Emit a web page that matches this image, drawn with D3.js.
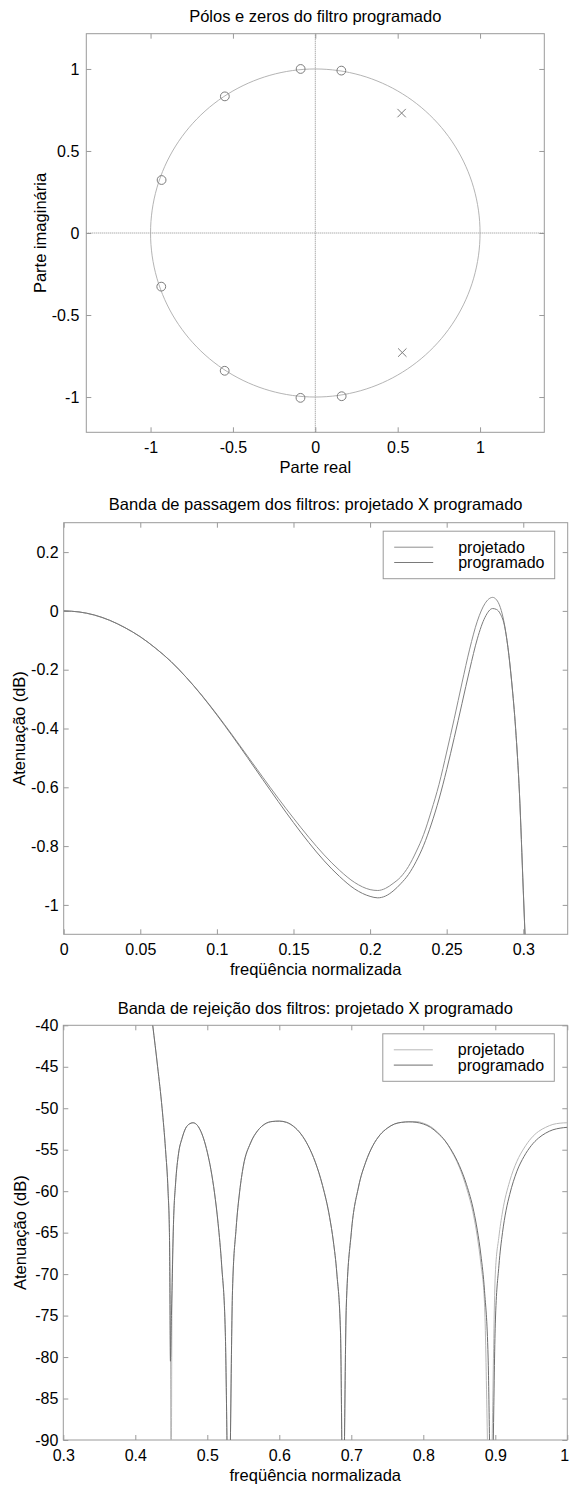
<!DOCTYPE html>
<html>
<head>
<meta charset="utf-8">
<script src="https://cdn.jsdelivr.net/npm/d3@7"></script>
<style>
  html, body { margin: 0; padding: 0; background: #fff; }
  svg { display: block; }
  text { font-family: "Liberation Sans", Arial, Helvetica, sans-serif; fill: #000; }
</style>
</head>
<body>
<svg id="fig" width="570" height="1486"></svg>
<script>
// ---------- DATA ----------
// Plot 1: poles and zeros
const zerosRe = [-0.089, 0.158, -0.549, -0.933, -0.935, -0.55, -0.09, 0.16];
const zerosIm = [1.0, 0.99, 0.833, 0.323, -0.327, -0.84, -1.005, -0.995];
const polesRe = [0.524, 0.528];
const polesIm = [0.731, -0.729];
const p1Ticks = [-1, -0.5, 0, 0.5, 1];

// Plot 2: passband
const passFreq = [0, 0.01, 0.02, 0.03, 0.04, 0.05, 0.06, 0.07, 0.08, 0.09, 0.10, 0.11, 0.12, 0.13, 0.14, 0.15, 0.16, 0.17, 0.18, 0.19, 0.20, 0.205, 0.21, 0.215, 0.22, 0.225, 0.23, 0.235, 0.24, 0.245, 0.25, 0.255, 0.26, 0.265, 0.27, 0.275, 0.28, 0.2825, 0.285, 0.2875, 0.29, 0.2925, 0.295, 0.2975, 0.3, 0.3015];
const passProjetado = [0, -0.0035, -0.014, -0.032, -0.057, -0.088, -0.127, -0.172, -0.226, -0.286, -0.352, -0.422, -0.494, -0.566, -0.637, -0.705, -0.77, -0.83, -0.882, -0.924, -0.948, -0.951, -0.944, -0.927, -0.905, -0.87, -0.82, -0.76, -0.68, -0.59, -0.48, -0.365, -0.245, -0.13, -0.035, 0.025, 0.046, 0.038, 0.012, -0.04, -0.125, -0.245, -0.4, -0.62, -0.95, -1.15];
const passProgramado = [0, -0.0035, -0.014, -0.032, -0.057, -0.088, -0.127, -0.172, -0.226, -0.287, -0.354, -0.425, -0.499, -0.574, -0.648, -0.72, -0.788, -0.85, -0.903, -0.946, -0.971, -0.976, -0.97, -0.953, -0.928, -0.897, -0.853, -0.797, -0.725, -0.64, -0.54, -0.43, -0.315, -0.2, -0.095, -0.022, 0.008, 0.005, -0.01, -0.045, -0.125, -0.245, -0.4, -0.62, -0.95, -1.15];
const p2XTicks = [0, 0.05, 0.1, 0.15, 0.2, 0.25, 0.3];
const p2YTicks = [-1, -0.8, -0.6, -0.4, -0.2, 0, 0.2];

// Plot 3: stopband
const stopFreqProj = [0.412, 0.418, 0.4242, 0.431, 0.4372, 0.442, 0.4455, 0.4474, 0.4486, 0.4497, 0.451, 0.453, 0.456, 0.46, 0.465, 0.47, 0.475, 0.48, 0.485, 0.49, 0.495, 0.50, 0.505, 0.51, 0.515, 0.52, 0.525, 0.5298, 0.535, 0.54, 0.545, 0.55, 0.56, 0.57, 0.58, 0.59, 0.60, 0.61, 0.62, 0.63, 0.64, 0.65, 0.66, 0.67, 0.675, 0.68, 0.685, 0.6885, 0.693, 0.70, 0.71, 0.72, 0.73, 0.74, 0.75, 0.76, 0.77, 0.78, 0.79, 0.80, 0.81, 0.82, 0.83, 0.84, 0.85, 0.86, 0.87, 0.875, 0.88, 0.885, 0.8925, 0.90, 0.905, 0.91, 0.92, 0.93, 0.94, 0.95, 0.96, 0.97, 0.98, 0.99, 1.0];
const stopProjetado = [-31.5, -35.6, -40, -45, -50, -55, -60, -65, -72, -100, -72, -64, -59, -55.5, -53.6, -52.4, -51.9, -51.75, -51.95, -52.6, -53.7, -55.3, -57.4, -60.2, -63.9, -69, -77, -100, -72, -64.5, -60, -57, -54.2, -52.7, -51.9, -51.6, -51.55, -51.7, -52.2, -53.1, -54.5, -56.5, -59.3, -63.2, -66, -70, -77, -100, -74, -65, -59.5, -56.5, -54.5, -53.2, -52.4, -51.9, -51.7, -51.6, -51.6, -51.8, -52.2, -52.9, -53.9, -55.3, -57.1, -59.6, -63, -65.5, -68.8, -73.5, -100, -70, -65.5, -62.5, -58.8, -56.4, -54.8, -53.6, -52.8, -52.3, -51.95, -51.8, -51.75];
const stopFreqProg = [0.412, 0.418, 0.4242, 0.431, 0.4372, 0.442, 0.4455, 0.4474, 0.4488, 0.4502, 0.451, 0.453, 0.456, 0.46, 0.465, 0.47, 0.475, 0.48, 0.485, 0.49, 0.495, 0.50, 0.505, 0.51, 0.515, 0.52, 0.525, 0.5298, 0.535, 0.54, 0.545, 0.55, 0.56, 0.57, 0.58, 0.59, 0.60, 0.61, 0.62, 0.63, 0.64, 0.65, 0.66, 0.67, 0.675, 0.68, 0.685, 0.6885, 0.693, 0.70, 0.71, 0.72, 0.73, 0.74, 0.75, 0.76, 0.77, 0.78, 0.79, 0.80, 0.81, 0.82, 0.83, 0.84, 0.85, 0.86, 0.87, 0.875, 0.88, 0.885, 0.89, 0.8945, 0.90, 0.905, 0.91, 0.915, 0.92, 0.93, 0.94, 0.95, 0.96, 0.97, 0.98, 0.99, 1.0];
const stopProgramado = [-31.5, -35.6, -40, -45, -50, -55, -60, -65, -80.5, -75, -72, -64, -59, -55.5, -53.6, -52.4, -51.9, -51.75, -51.95, -52.6, -53.7, -55.3, -57.4, -60.2, -63.9, -69, -77, -100, -72, -64.5, -60, -57, -54.2, -52.7, -51.9, -51.6, -51.55, -51.7, -52.2, -53.1, -54.5, -56.5, -59.3, -63.2, -66, -70, -77, -100, -74, -65, -59.5, -56.5, -54.5, -53.2, -52.4, -51.9, -51.7, -51.65, -51.7, -51.9, -52.3, -53.0, -53.9, -55.2, -56.9, -59.2, -62.4, -64.7, -67.7, -72, -80, -100, -76, -69, -65, -62.3, -60.4, -57.6, -55.8, -54.5, -53.6, -53.0, -52.6, -52.4, -52.3];
const p3XTicks = [0.3, 0.4, 0.5, 0.6, 0.7, 0.8, 0.9, 1];
const p3YTicks = [-90, -85, -80, -75, -70, -65, -60, -55, -50, -45, -40];

const seriesNames = ["projetado", "programado"];

// ---------- STYLE / LAYOUT ----------
const axisColor = "#9a9a9a";
const tickFont = 16;
const labelFont = 16.5;
const fmt = d => String(d);

const svg = d3.select("#fig");
svg.append("rect").attr("width", 570).attr("height", 1486).attr("fill", "#fff");

function drawFrame(id, x, y, xTicks, yTicks, box, opts) {
  const g = svg.append("g");
  svg.append("defs").append("clipPath").attr("id", id)
    .append("rect").attr("x", box.l).attr("y", box.t)
    .attr("width", box.r - box.l).attr("height", box.b - box.t);

  const styleAxis = (sel, labels) => {
    sel.select(".domain").remove();
    sel.selectAll("line").attr("stroke", axisColor);
    sel.selectAll("text").attr("font-size", tickFont)
      .attr("font-family", '"Liberation Sans", Arial, sans-serif').attr("fill", "#000");
    if (!labels) sel.selectAll("text").remove();
  };
  const bottom = g.append("g").attr("transform", `translate(0,${box.b})`)
    .call(d3.axisBottom(x).tickValues(xTicks).tickFormat(fmt).tickSize(-5).tickPadding(9.5))
    .call(s => styleAxis(s, true));
  if (opts.lastXdx) {
    bottom.selectAll(".tick text").filter((d, i, n) => i === n.length - 1).attr("dx", opts.lastXdx);
  }
  g.append("g").attr("transform", `translate(0,${box.t})`)
    .call(d3.axisTop(x).tickValues(xTicks).tickSize(-5))
    .call(s => styleAxis(s, false));
  g.append("g").attr("transform", `translate(${box.l},0)`)
    .call(d3.axisLeft(y).tickValues(yTicks).tickFormat(fmt).tickSize(-5).tickPadding(opts.yPad))
    .call(s => styleAxis(s, true));
  g.append("g").attr("transform", `translate(${box.r},0)`)
    .call(d3.axisRight(y).tickValues(yTicks).tickSize(-5))
    .call(s => styleAxis(s, false));

  g.append("rect").attr("x", box.l).attr("y", box.t)
    .attr("width", box.r - box.l).attr("height", box.b - box.t)
    .attr("fill", "none").attr("stroke", axisColor).attr("stroke-width", 1);

  svg.append("text").attr("x", (box.l + box.r) / 2).attr("y", opts.titleY)
    .attr("text-anchor", "middle").attr("font-size", labelFont).text(opts.title);
  svg.append("text").attr("x", (box.l + box.r) / 2).attr("y", box.b + 41)
    .attr("text-anchor", "middle").attr("font-size", labelFont).text(opts.xlabel);
  svg.append("text")
    .attr("transform", `translate(${opts.ylabelX},${(box.t + box.b) / 2}) rotate(-90)`)
    .attr("text-anchor", "middle").attr("font-size", labelFont).text(opts.ylabel);
  return g;
}

function drawLegend(box, colors) {
  const lx = box.r - 184.5, ly = box.t + 8.5;
  const lg = svg.append("g");
  lg.append("rect").attr("x", lx).attr("y", ly).attr("width", 171.5).attr("height", 47.5)
    .attr("fill", "#fff").attr("stroke", axisColor).attr("stroke-width", 1);
  seriesNames.forEach((name, i) => {
    lg.append("line").attr("x1", lx + 11).attr("x2", lx + 50)
      .attr("y1", ly + 16 + i * 15.3).attr("y2", ly + 16 + i * 15.3)
      .attr("stroke", colors[i]).attr("stroke-width", 1);
    lg.append("text").attr("x", lx + 75).attr("y", ly + 21.5 + i * 15.3)
      .attr("font-size", tickFont).text(name);
  });
}

// ---------- PLOT 1 ----------
{
  const box = { l: 86.3, r: 544.3, t: 33.7, b: 432.3 };
  const x = d3.scaleLinear().domain([-1.39, 1.39]).range([box.l, box.r]);
  const y = d3.scaleLinear().domain([-1.215, 1.215]).range([box.b, box.t]);
  drawFrame("clip1", x, y, p1Ticks, p1Ticks, box, {
    title: "Pólos e zeros do filtro programado", titleY: 21.7,
    xlabel: "Parte real", ylabel: "Parte imaginária", ylabelX: 46, yPad: 7
  });
  const pg = svg.append("g").attr("clip-path", "url(#clip1)");
  const c = "#8c8c8c";
  pg.append("line").attr("x1", x(-1.39)).attr("x2", x(1.39)).attr("y1", y(0)).attr("y2", y(0))
    .attr("stroke", c).attr("stroke-dasharray", "1,1");
  pg.append("line").attr("x1", x(0)).attr("x2", x(0)).attr("y1", y(-1.215)).attr("y2", y(1.215))
    .attr("stroke", c).attr("stroke-dasharray", "1,1");
  const ang = d3.range(0, 361, 2).map(a => a * Math.PI / 180);
  pg.append("path")
    .attr("d", d3.line().x(a => x(Math.cos(a))).y(a => y(Math.sin(a)))(ang))
    .attr("fill", "none").attr("stroke", "#ababab").attr("stroke-width", 0.9);
  pg.selectAll("circle.z").data(zerosRe).enter().append("circle")
    .attr("cx", d => x(d)).attr("cy", (d, i) => y(zerosIm[i])).attr("r", 4.4)
    .attr("fill", "none").attr("stroke", "#7c7c7c").attr("stroke-width", 1);
  const s = 4.2;
  polesRe.forEach((re, i) => {
    const px = x(re), py = y(polesIm[i]);
    pg.append("path").attr("d", `M${px - s},${py - s}L${px + s},${py + s}M${px - s},${py + s}L${px + s},${py - s}`)
      .attr("stroke", "#7c7c7c").attr("stroke-width", 1).attr("fill", "none");
  });
}

// ---------- PLOT 2 ----------
{
  const box = { l: 63.7, r: 567.7, t: 522.7, b: 934.3 };
  const x = d3.scaleLinear().domain([0, 0.329]).range([box.l, box.r]);
  const y = d3.scaleLinear().domain([-1.1, 0.3]).range([box.b, box.t]);
  drawFrame("clip2", x, y, p2XTicks, p2YTicks, box, {
    title: "Banda de passagem dos filtros: projetado X programado", titleY: 510,
    xlabel: "freqüência normalizada", ylabel: "Atenuação (dB)", ylabelX: 24.5, yPad: 5
  });
  const colors = ["#8e8e8e", "#7a7a7a"];
  const pg = svg.append("g").attr("clip-path", "url(#clip2)");
  const line = d3.line().x(d => x(d[0])).y(d => y(d[1])).curve(d3.curveMonotoneX);
  [passProjetado, passProgramado].forEach((vals, i) => {
    pg.append("path").attr("d", line(passFreq.map((f, j) => [f, vals[j]])))
      .attr("fill", "none").attr("stroke", colors[i]).attr("stroke-width", 1);
  });
  drawLegend(box, colors);
}

// ---------- PLOT 3 ----------
{
  const box = { l: 63.3, r: 567.3, t: 1025.3, b: 1440 };
  const x = d3.scaleLinear().domain([0.3, 1]).range([box.l, box.r]);
  const y = d3.scaleLinear().domain([-90, -40]).range([box.b, box.t]);
  drawFrame("clip3", x, y, p3XTicks, p3YTicks, box, {
    title: "Banda de rejeição dos filtros: projetado X programado", titleY: 1014,
    xlabel: "freqüência normalizada", ylabel: "Atenuação (dB)", ylabelX: 26, yPad: 5,
    lastXdx: -3
  });
  const colors = ["#b8b8b8", "#6e6e6e"];
  const pg = svg.append("g").attr("clip-path", "url(#clip3)");
  const line = d3.line().x(d => x(d[0])).y(d => y(d[1])).curve(d3.curveMonotoneX);
  pg.append("path").attr("d", line(stopFreqProj.map((f, j) => [f, stopProjetado[j]])))
    .attr("fill", "none").attr("stroke", colors[0]).attr("stroke-width", 1);
  pg.append("path").attr("d", line(stopFreqProg.map((f, j) => [f, stopProgramado[j]])))
    .attr("fill", "none").attr("stroke", colors[1]).attr("stroke-width", 1);
  drawLegend(box, colors);
}
</script>
</body>
</html>
